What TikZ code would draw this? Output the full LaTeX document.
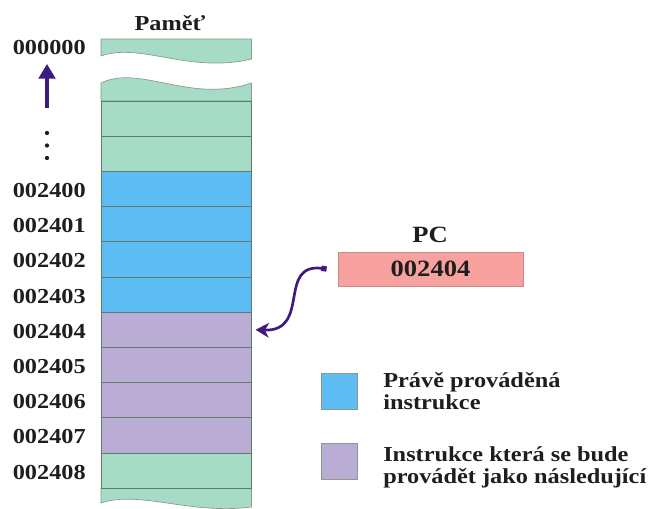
\documentclass[tikz,border=0pt]{standalone}
\usepackage{fontspec}
\setmainfont{Liberation Serif}[FakeStretch=1.14]
\usetikzlibrary{arrows.meta,calc}

\definecolor{memgreen}{HTML}{A6DCC5}
\definecolor{curblue}{HTML}{5DBDF2}
\definecolor{nextpurple}{HTML}{B9ADD6}
\definecolor{pcpink}{HTML}{F7A29E}
\definecolor{pcedge}{HTML}{C98A86}
\definecolor{arrowpurple}{HTML}{3D1A82}
\definecolor{gridline}{HTML}{5E7A6E}
\definecolor{edgegray}{HTML}{8A9A92}
\definecolor{inkdark}{HTML}{1E1E1E}

\begin{document}
\begin{tikzpicture}[x=0.75pt,y=-0.75pt,
  cell/.style={draw=gridline, line width=0.6pt, minimum width=112.9pt,
    minimum height=26.4pt, inner sep=0pt, outer sep=0pt},
  piece/.style={fill=memgreen, draw=edgegray, line width=0.5pt},
  addr/.style={anchor=base east, inner sep=0pt, text=inkdark,
    font=\bfseries\fontsize{16}{19}\selectfont},
  title/.style={anchor=base, inner sep=0pt, text=inkdark,
    font=\bfseries\fontsize{16}{19}\selectfont},
  legbox/.style={draw=edgegray, line width=0.5pt, minimum size=27pt,
    inner sep=0pt},
  legtext/.style={anchor=base west, inner sep=0pt, text=inkdark,
    font=\bfseries\fontsize{16}{19}\selectfont},
  pcbox/.style={fill=pcpink, draw=pcedge, line width=0.6pt,
    minimum width=138.75pt, minimum height=25.5pt, inner sep=0pt, text=inkdark,
    font=\bfseries\fontsize{17.5}{20}\selectfont},
  uparrow/.style={draw=arrowpurple, line width=2.4pt,
    -{Triangle[length=11pt,width=12.5pt]}},
  pcarrow/.style={draw=arrowpurple, line width=2pt,
    {Square[length=4pt,width=4pt]}-{Stealth[length=10pt,width=11pt,inset=3pt]}}
]
\useasboundingbox (0,0) rectangle (663,509);

% memory column: broken top, address rows, broken bottom
\filldraw[piece] (101,39) -- (251.5,39) -- (251.5,59)
  .. controls (190,74) and (140,42) .. (101,56) -- cycle;
\filldraw[piece] (101,101) -- (101,83)
  .. controls (140,64) and (190,104) .. (251.5,83) -- (251.5,101) -- cycle;
\filldraw[piece] (101,488.2) -- (101,503)
  .. controls (140,490) and (190,515) .. (251.5,507) -- (251.5,488.2) -- cycle;

\foreach \k in {0,1}
  \node[cell, fill=memgreen] (row\k) at (176.25,{118.6+35.2*\k}) {};
\foreach \k/\addrtext in {2/002400,3/002401,4/002402,5/002403} {
  \node[cell, fill=curblue] (row\k) at (176.25,{118.6+35.2*\k}) {};
  \node[addr] (addr\k) at (86,{127.1+35.2*\k}) {\addrtext};
}
\foreach \k/\addrtext in {6/002404,7/002405,8/002406,9/002407} {
  \node[cell, fill=nextpurple] (row\k) at (176.25,{118.6+35.2*\k}) {};
  \node[addr] (addr\k) at (86,{127.1+35.2*\k}) {\addrtext};
}
\node[cell, fill=memgreen] (row10) at (176.25,{118.6+35.2*10}) {};
\node[addr] (addr10) at (86,{127.1+35.2*10}) {002408};

\node[title] (memtitle) at (170,31) {Paměť};

% lowest address with the upward arrow and ellipsis
\node[addr] (addrtop) at (86,55) {000000};
\coordinate (upfoot) at (47,108);
\draw[uparrow, shorten >=6.75pt] (upfoot) -- (upfoot |- addrtop.base);
\foreach \dy in {133,145.5,158}
  \fill[inkdark] (47,\dy) circle (1.6pt);

% program counter
\node[title, font=\bfseries\fontsize{17.5}{20}\selectfont] (pctitle) at (430,243) {PC};
\node[pcbox] (pc) at (430.5,269) {002404};
\coordinate (pcport) at ($(pc.west)+(-11,0)$);
\draw[pcarrow] (pcport) .. controls +(-50,-7) and +(56,2) .. ([xshift=3pt]row6.east);

% legend
\node[legbox, fill=curblue] (legcur) at (339,391) {};
\node[legtext] (legcurA) at (383,387) {Právě prováděná};
\node[legtext] (legcurB) at (383,409.5) {instrukce};
\node[legbox, fill=nextpurple] (legnext) at (339,461.5) {};
\node[legtext] (legnextA) at (383,461) {Instrukce která se bude};
\node[legtext] (legnextB) at (383,483.5) {provádět jako následující};
\end{tikzpicture}
\end{document}
